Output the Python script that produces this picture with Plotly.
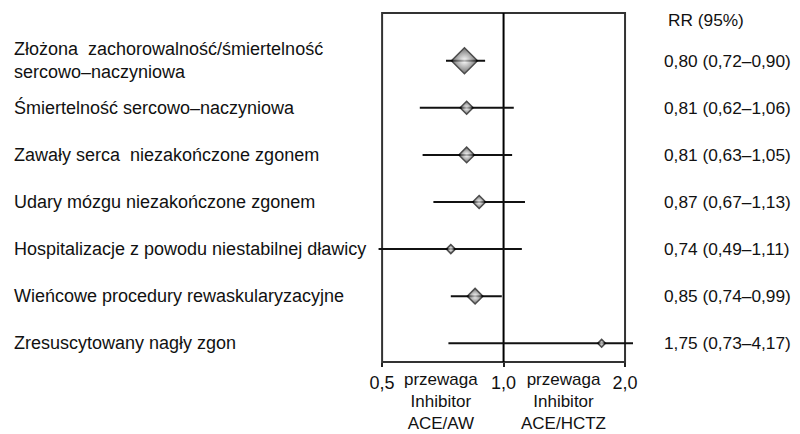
import numpy as np
import plotly.graph_objects as go

# ---- data ----
categories = [
    "Złożona  zachorowalność/śmiertelność<br>sercowo–naczyniowa",
    "Śmiertelność sercowo–naczyniowa",
    "Zawały serca  niezakończone zgonem",
    "Udary mózgu niezakończone zgonem",
    "Hospitalizacje z powodu niestabilnej dławicy",
    "Wieńcowe procedury rewaskularyzacyjne",
    "Zresuscytowany nagły zgon",
]
rr = [0.80, 0.81, 0.81, 0.87, 0.74, 0.85, 1.75]
ci_low = [0.72, 0.62, 0.63, 0.67, 0.49, 0.74, 0.73]
ci_high = [0.90, 1.06, 1.05, 1.13, 1.11, 0.99, 4.17]
rr_text = [
    "0,80 (0,72–0,90)",
    "0,81 (0,62–1,06)",
    "0,81 (0,63–1,05)",
    "0,87 (0,67–1,13)",
    "0,74 (0,49–1,11)",
    "0,85 (0,74–0,99)",
    "1,75 (0,73–4,17)",
]
tick_vals = [0.5, 1.0, 2.0]
tick_text = ["0,5", "1,0", "2,0"]
header = "RR (95%)"
favour_left = "przewaga<br>Inhibitor<br>ACE/AW"
favour_right = "przewaga<br>Inhibitor<br>ACE/HCTZ"

# ---- style ----
marker_sizes = [20, 10, 12, 10, 7, 12, 6]
FONT = "Liberation Sans, Arial, sans-serif"
FS = 18
FS_RR = 17.3
FS_BOT = 17
OFF = 8  # page body margin
FIG_W, FIG_H = 800 - OFF, 434 - OFF
L, R = 372 - OFF, 633 - OFF
TOP, BOT = 13 - OFF, 362 - OFF
W = R - L
idx = list(range(len(categories)))

err_plus = [h - r for h, r in zip(ci_high, rr)]
err_minus = [r - l for r, l in zip(rr, ci_low)]

fig = go.Figure()
fig.add_trace(go.Scatter(
    x=rr, y=idx, mode="markers",
    marker=dict(symbol="diamond", size=marker_sizes, color="#333333",
                gradient=dict(type="radial", color="#ffffff"),
                line=dict(color="#000000", width=1.5)),
    error_x=dict(type="data", symmetric=False, array=err_plus, arrayminus=err_minus,
                 thickness=2, width=0, color="#111111"),
    hoverinfo="skip", showlegend=False,
))


def px(xpage):
    return (xpage - OFF - L) / W


annotations = []
for i, (c, t) in enumerate(zip(categories, rr_text)):
    annotations.append(dict(x=px(12), xref="paper", y=i, yref="y", text=c,
                            showarrow=False, xanchor="left", yanchor="middle", align="left",
                            font=dict(family=FONT, size=FS, color="#111")))
    annotations.append(dict(x=px(662), xref="paper", y=i, yref="y", text=t,
                            showarrow=False, xanchor="left", yanchor="middle",
                            font=dict(family=FONT, size=FS_RR, color="#111")))
annotations.append(dict(x=px(666), xref="paper", y=1, yref="paper", yshift=-7, text=header,
                        showarrow=False, xanchor="left", yanchor="middle",
                        font=dict(family=FONT, size=FS_RR, color="#111")))
for xv, txt in [(0.70, favour_left), (1.41, favour_right)]:
    annotations.append(dict(x=np.log10(xv), xref="x", y=0, yref="paper", yshift=-6, text=txt,
                            showarrow=False, xanchor="center", yanchor="top", align="center",
                            font=dict(family=FONT, size=FS_BOT, color="#111")))

shapes = [
    dict(type="rect", xref="x", yref="paper", x0=0.5, x1=2.0, y0=0, y1=1,
         line=dict(color="#333333", width=2), layer="below"),
    dict(type="line", xref="x", yref="paper", x0=1.0, x1=1.0, y0=0, y1=1,
         line=dict(color="#000000", width=2), layer="below"),
]

fig.update_layout(
    width=FIG_W, height=FIG_H,
    margin=dict(l=L, r=FIG_W - R, t=TOP, b=FIG_H - BOT, pad=0),
    paper_bgcolor="white", plot_bgcolor="white",
    xaxis=dict(type="log", range=[np.log10(0.472), np.log10(2.093)],
               tickvals=tick_vals, ticktext=tick_text, ticks="outside", ticklen=4,
               tickwidth=2, tickcolor="#222", showgrid=False, zeroline=False, showline=False,
               tickfont=dict(family=FONT, size=FS, color="#111")),
    yaxis=dict(range=[6.397, -1.013], visible=False, showgrid=False, zeroline=False),
    annotations=annotations, shapes=shapes,
)
fig.write_html("out.html")
